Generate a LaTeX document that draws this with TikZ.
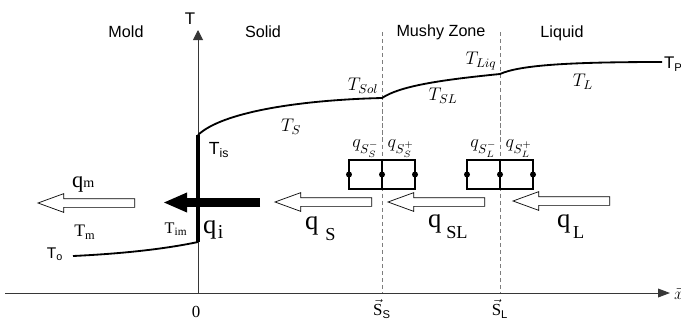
\RequirePackage{fix-cm}
\documentclass[tikz,border=0pt]{standalone}
\usepackage{fontspec}
\setmainfont{Liberation Serif}
\setsansfont{Liberation Sans}
\usetikzlibrary{arrows.meta,positioning,shapes.arrows}
\definecolor{axisgray}{RGB}{55,55,55}
\definecolor{frontgray}{RGB}{125,125,125}
\newcommand{\fs}[1]{\fontsize{#1}{#1}\selectfont}
\newcommand{\qflux}[2]{{\fs{19}q}\hspace{#1}\raisebox{-8.5pt}{\fs{13}#2}}

\begin{document}
\begin{tikzpicture}[x=0.025cm, y=-0.025cm,
        every node/.style={inner sep=0pt, outer sep=0pt},
        axis/.style={draw=axisgray, line width=0.7pt},
        front/.style={draw=frontgray, line width=0.6pt, dash pattern=on 3pt off 2pt},
        profile/.style={line width=1.3pt},
        zone/.style={font=\sffamily\fs{11.5}},
        temp/.style={font=\fs{13}},
        hollow/.style={single arrow, draw, line width=0.5pt, fill=white,
          shape border rotate=180, single arrow tip angle=40,
          single arrow head extend=0.125cm, text height=0.2cm, text depth=0pt,
          minimum height=2.42cm, anchor=tip},
        cell/.style={rectangle, draw, line width=0.9pt, fill=white,
          minimum width=1.65cm, minimum height=0.725cm},
        dot/.style={circle, fill, minimum size=0.15cm}]
  \useasboundingbox (0,0) rectangle (681,324);
  % zones
  \node[zone] (mold) at (126,32) {Mold};
  \node[zone] (solid) at (263,32) {Solid};
  \node[zone] (mushy) at (441,32) {Mushy Zone};
  \node[zone] (liquid) at (562,33) {Liquid};
  % axes
  \coordinate (O) at (198,293);
  \coordinate (Ttop) at (198,30);
  \coordinate (xstart) at (5,293);
  \coordinate (xend) at (670,293);
  \draw[axis, -{Triangle[length=0.25cm, width=0.25cm]}] (O) -- (Ttop);
  \draw[axis, -{Triangle[length=0.3cm, width=0.22cm]}] (xstart) -- (xend);
  \node[font=\sffamily\fs{12}] (Tlab) at (190,19) {T};
  \node[anchor=west, font=\fs{12}] (xlab) at (674,293) {$\vec{x}$};
  \node[font=\fs{12}] (zero) at (196,312) {0};
  % fronts
  \coordinate (Ss) at (382,293);
  \coordinate (SsTop) at (382,32);
  \coordinate (Sl) at (500,293);
  \coordinate (SlTop) at (500,32);
  \draw[front] (SsTop) -- (Ss);
  \draw[front] (SlTop) -- (Sl);
  \node[font=\fs{12}] (SsLab) at (382,309) {$\vec{\mathrm{S}}_{\mathsf{S}}$};
  \node[font=\fs{12}] (SlLab) at (500,309) {$\vec{\mathrm{S}}_{\mathsf{L}}$};
  % temperature profile
  \coordinate (To) at (73,256);
  \coordinate (Tim) at (198,242);
  \coordinate (Tis) at (198,135);
  \coordinate (Tsol) at (382,98);
  \coordinate (Tliq) at (500,74);
  \coordinate (Tp) at (662,62);
  \draw[profile] (To) .. controls (115,254) and (160,250) .. (Tim);
  \draw[line width=2.4pt] (Tim) -- (Tis);
  \draw[profile] (Tis) .. controls (222,112) and (300,100) .. (Tsol)
    .. controls (400,86) and (440,80) .. (Tliq)
    .. controls (520,65) and (570,62) .. (Tp);
  \node[anchor=west, font=\sffamily\fs{12}] (TpLab) at (664,64) {T\textsubscript{P}};
  \node[font=\sffamily\fs{12.5}] (TisLab) at (219,150) {T\textsubscript{is}};
  \node[font=\fs{11.5}] (TimLab) at (176,229) {T\textsubscript{im}};
  \node[font=\fs{12.5}] (TmLab) at (85,232) {T\textsubscript{m}};
  \node[font=\sffamily\fs{11}] (ToLab) at (55,254) {T\textsubscript{o}};
  \node[temp] (TsLab) at (291,127) {$T_{S}$};
  \node[temp] (TsolLab) at (363,86) {$T_{Sol}$};
  \node[temp] (TslLab) at (443,96) {$T_{SL}$};
  \node[temp] (TliqLab) at (481,61) {$T_{Liq}$};
  \node[temp] (TlLab) at (583,82) {$T_{L}$};
  % interface cells
  \node[cell] (cellS) at (382,174.5) {};
  \node[cell] (cellL) at (500,174.5) {};
  \foreach \c in {cellS,cellL} {
    \draw[line width=0.9pt] (\c.north) -- (\c.south);
    \node[dot] at (\c.west) {};
    \node[dot] at (\c.center) {};
    \node[dot] at (\c.east) {};
  }
  \node[font=\fs{13}, above left=2pt and 2pt of cellS.north] (qSm) {$q_{S_S^-}$};
  \node[font=\fs{13}, above right=2pt and 4pt of cellS.north] (qSp) {$q_{S_S^+}$};
  \node[font=\fs{13}, above left=2pt and 2pt of cellL.north] (qLm) {$q_{S_L^-}$};
  \node[font=\fs{13}, above right=2pt and 4pt of cellL.north] (qLp) {$q_{S_L^+}$};
  % heat fluxes
  \node[hollow] (qmArr) at (38,203) {};
  \node[hollow] (qSArr) at (275,202) {};
  \node[hollow] (qSLArr) at (388,202) {};
  \node[hollow] (qLArr) at (513,201) {};
  \coordinate (qiTail) at (260,202.5);
  \coordinate (qiTip) at (163,202.5);
  \draw[line width=0.225cm, -{Triangle[length=0.6cm, width=0.45cm]}] (qiTail) -- (qiTip);
  \node[anchor=base west] (qmLab) at (72,187) {{\fs{16}q}{\fs{10}m}};
  \node[anchor=base west] (qiLab) at (203,233) {{\fs{19}q}\hspace{1pt}\raisebox{-4pt}{\fs{14}i}};
  \node[anchor=base west] (qSLab) at (305,229) {\qflux{5pt}{S}};
  \node[anchor=base west] (qSLLab) at (428,227) {\qflux{3.5pt}{SL}};
  \node[anchor=base west] (qLLab) at (557,227) {\qflux{2pt}{L}};
\end{tikzpicture}
\end{document}
